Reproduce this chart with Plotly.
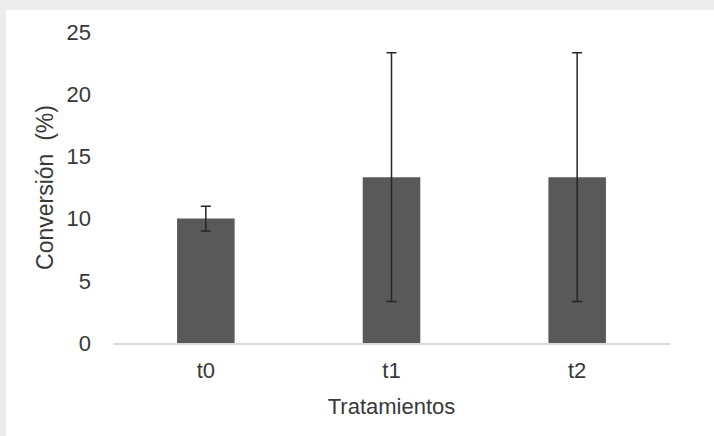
import plotly.graph_objects as go

categories = ["t0", "t1", "t2"]
values = [10.0, 13.33, 13.33]
errors = [1.0, 10.0, 10.0]
y_ticks = [0, 5, 10, 15, 20, 25]

W, H = 714, 436
L, R, T, B = 113, 44, 32, 93
pw, ph = W - L - R, H - T - B

def px_x(p):
    return (p - L) / pw

def px_y(p):
    return (H - B - p) / ph

fig = go.Figure()
fig.add_trace(go.Bar(
    x=categories, y=values, width=0.31,
    marker=dict(color="#595959", line=dict(width=0)),
    error_y=dict(type="data", array=errors, visible=True,
                 color="#262626", thickness=1.5, width=5),
))

gray = "#ececec"
fig.add_shape(type="rect", xref="paper", yref="paper",
              x0=px_x(-2), x1=px_x(W + 2), y0=px_y(10), y1=px_y(-2),
              fillcolor=gray, line=dict(width=0), layer="below")
fig.add_shape(type="rect", xref="paper", yref="paper",
              x0=px_x(-2), x1=px_x(6), y0=px_y(H + 2), y1=px_y(10),
              fillcolor=gray, line=dict(width=0), layer="below")

font = "Liberation Sans, Arial, sans-serif"
txt = "#383838"
fig.update_layout(
    width=W, height=H,
    margin=dict(l=L, r=R, t=T, b=B, pad=0),
    paper_bgcolor="white", plot_bgcolor="white",
    showlegend=False,
    font=dict(family=font, color=txt, size=20),
    xaxis=dict(
        showgrid=False, showline=True, linecolor="#d9d9d9", linewidth=1.5,
        ticks="", ticklabelstandoff=7, tickfont=dict(size=22, color=txt),
        title=dict(text="Tratamientos", font=dict(size=22, color=txt), standoff=16),
        range=[-0.5, 2.5],
    ),
    yaxis=dict(
        range=[0, 25], tickvals=y_ticks, showgrid=False, zeroline=False,
        showline=False, ticks="", ticklabelstandoff=21,
        tickfont=dict(size=22, color=txt),
        title=dict(text="Conversión  (%)", font=dict(size=23, color=txt), standoff=6),
    ),
)

fig.write_html("out.html", config={"displayModeBar": False},
               post_script="document.body.style.margin='0';document.body.style.padding='0';")
